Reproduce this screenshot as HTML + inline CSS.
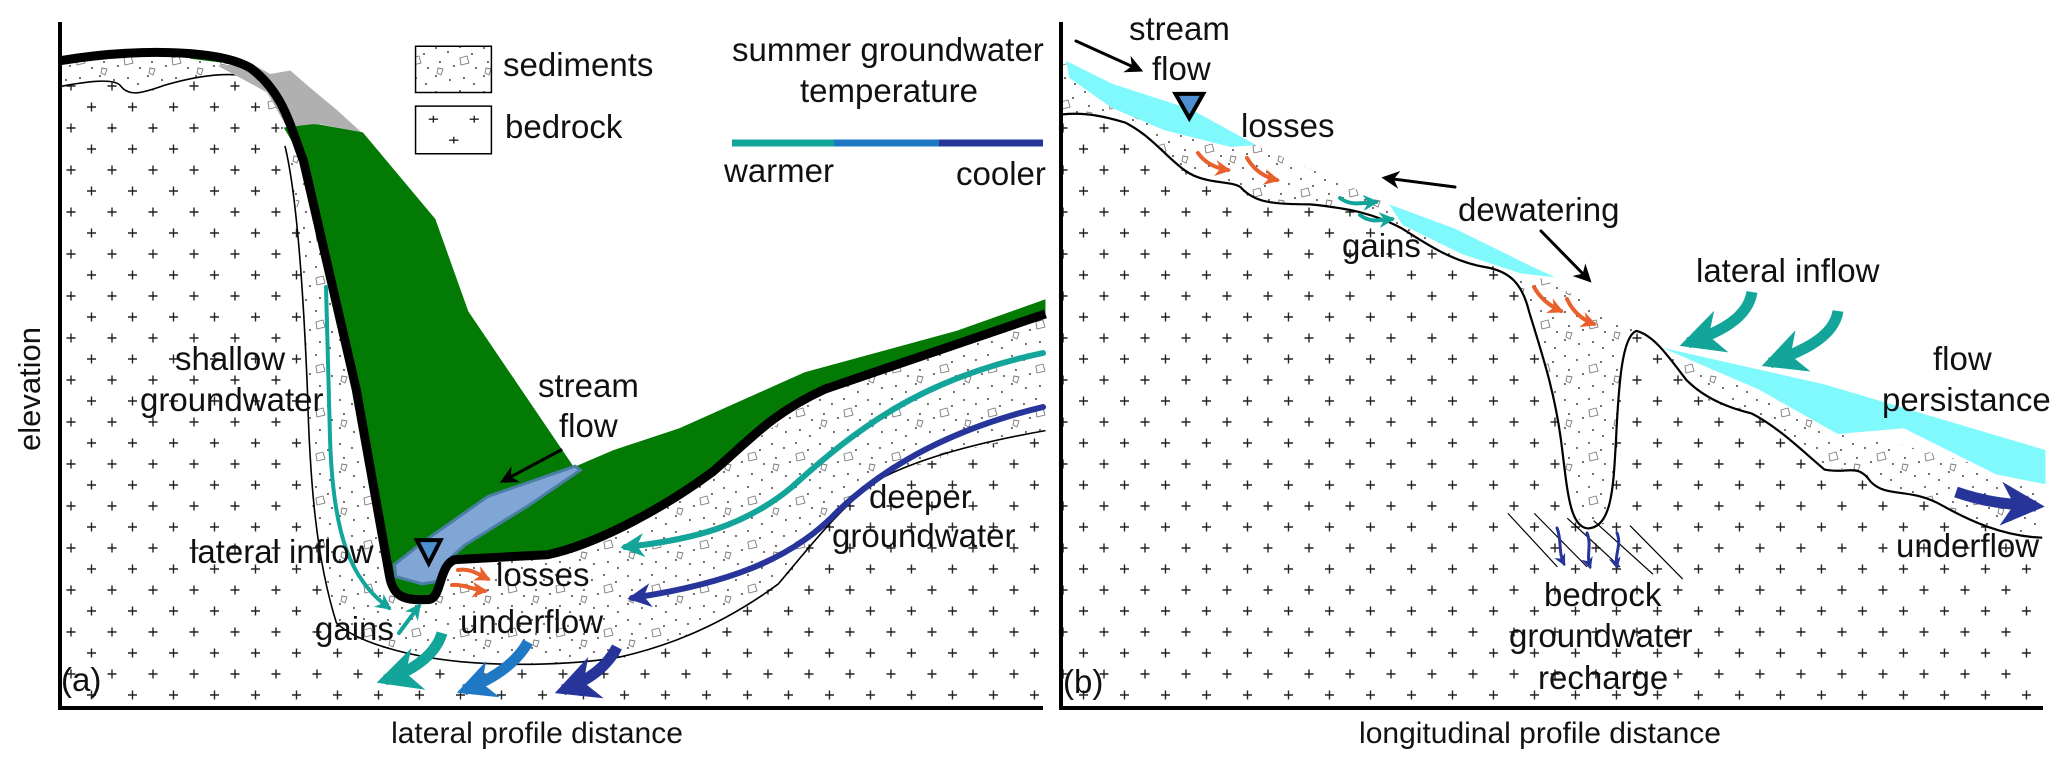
<!DOCTYPE html>
<html>
<head>
<meta charset="utf-8">
<style>
html,body{margin:0;padding:0;background:#fff;}
svg{display:block;}
text{font-family:"Liberation Sans",Arial,sans-serif;fill:#111;}
</style>
</head>
<body>
<svg width="2067" height="763" viewBox="0 0 2067 763" xmlns="http://www.w3.org/2000/svg">
<defs>
  <pattern id="plusT" width="41" height="42" patternUnits="userSpaceOnUse" patternTransform="scale(1.516 2.055) translate(-1 13)">
    <path d="M6,10 h9 M10.5,5.5 v9 M26.5,31 h9 M31,26.5 v9" stroke="#222" stroke-width="1.4"/>
  </pattern>
  <pattern id="sed" width="48" height="44" patternUnits="userSpaceOnUse" patternTransform="scale(1.516 2.055)">
    <rect width="48" height="44" fill="#fff"/>
    <g fill="#444">
      <circle cx="4" cy="4" r="1"/><circle cx="16" cy="8" r="1"/><circle cx="28" cy="3" r="1"/><circle cx="40" cy="10" r="1"/>
      <circle cx="8" cy="18" r="1"/><circle cx="22" cy="22" r="1"/><circle cx="44" cy="24" r="1"/>
      <circle cx="4" cy="32" r="1"/><circle cx="18" cy="36" r="1"/><circle cx="32" cy="34" r="1"/><circle cx="42" cy="40" r="1"/>
    </g>
    <path d="M28,14 l7,-2 l2,7 l-8,2 z M6,24 l5,1 l-2,6 l-4,-2 z" fill="none" stroke="#777" stroke-width="0.9"/>
  </pattern>
  <marker id="mTeal" viewBox="0 0 10 10" refX="8" refY="5" markerWidth="4" markerHeight="4" orient="auto"><path d="M0,0 L10,5 L0,10 L3,5 z" fill="#14a59a"/></marker>
  <marker id="mBlue" viewBox="0 0 10 10" refX="8" refY="5" markerWidth="3.5" markerHeight="3.5" orient="auto"><path d="M0,0 L10,5 L0,10 L3,5 z" fill="#1f78c4"/></marker>
  <marker id="mNavy" viewBox="0 0 10 10" refX="8" refY="5" markerWidth="4" markerHeight="4" orient="auto"><path d="M0,0 L10,5 L0,10 L3,5 z" fill="#27349a"/></marker>
  <marker id="mOrange" viewBox="0 0 10 10" refX="8" refY="5" markerWidth="4" markerHeight="4" orient="auto"><path d="M0,0 L10,5 L0,10 L3,5 z" fill="#e8602c"/></marker>
  <marker id="mBlack" viewBox="0 0 10 10" refX="8" refY="5" markerWidth="6" markerHeight="6" orient="auto"><path d="M0,0 L10,5 L0,10 L3,5 z" fill="#000"/></marker>
</defs>

<g transform="scale(0.6596 0.4866)">
  <path fill="url(#plusT)" d="M90,125 C200,100 330,100 380,140 C430,190 440,260 460,330 L540,800 C560,950 580,1100 590,1180 C595,1225 610,1235 650,1232 C670,1230 665,1160 690,1150 L830,1140 C900,1120 1000,1050 1080,970 C1140,900 1170,850 1250,800 L1585,645 L1585,1455 L90,1455 Z"/>
  <polygon fill="url(#sed)" points="90,125 200,108 330,115 380,140 430,200 460,330 540,800 590,1180 650,1235 690,1150 830,1140 1080,970 1250,800 1585,645 1585,885 1450,930 1340,980 1260,1060 1180,1200 1050,1300 940,1350 820,1370 700,1360 560,1330 510,1280 480,1100 470,900 465,720 455,480 440,330 420,250 380,175 330,150 250,175 200,195 180,170 130,168 90,178"/>
  <path fill="none" stroke="#000" stroke-width="1.6" vector-effect="non-scaling-stroke" d="M90,178 C130,168 170,160 182,175 C195,200 215,192 250,175 C300,155 340,150 370,155 M432,300 C450,400 460,600 466,800 C470,1000 480,1150 510,1280 C540,1320 620,1350 700,1360 C780,1370 880,1365 940,1350 C1040,1320 1120,1260 1180,1200 C1230,1120 1280,1030 1340,980 C1400,940 1480,910 1585,885"/>
  <polygon fill="#037a03" points="265,108 355,125 362,133 290,121"/>
  <polygon fill="#b0b0b0" points="330,135 380,130 410,152 440,145 470,180 510,225 548,272 485,255 470,272 435,262 405,190"/>
  <path fill="#037a03" d="M430,262 L475,255 L485,256 L550,272 L660,450 L710,640 L850,920 L870,960 L930,925 L1030,880 L1220,765 L1450,680 L1585,615 L1585,650 L1250,800 C1170,850 1140,900 1080,970 C1000,1050 900,1120 830,1140 L690,1150 C665,1160 670,1230 650,1232 C610,1235 595,1225 590,1180 C580,1100 560,950 540,800 L460,330 Z"/>
  <polygon fill="#7fa6d4" stroke="#4a7fa5" stroke-width="3" vector-effect="non-scaling-stroke" points="598,1160 640,1115 740,1020 872,958 880,966 800,1040 705,1120 680,1150 662,1195 640,1200 600,1185"/>
  <polygon fill="#4d8fd0" stroke="#000" stroke-width="4" vector-effect="non-scaling-stroke" points="632,1110 668,1110 650,1158"/>
  <path fill="none" stroke="#000" stroke-width="9" vector-effect="non-scaling-stroke" stroke-linejoin="round" d="M90,125 C200,100 330,100 380,140 C430,190 440,260 460,330 L540,800 C560,950 580,1100 590,1180 C595,1225 610,1235 650,1232 C670,1230 665,1160 690,1150 L830,1140 C900,1120 1000,1050 1080,970 C1140,900 1170,850 1250,800 L1585,645"/>
  <rect x="630" y="95" width="115" height="95" fill="url(#sed)" stroke="#000" stroke-width="1.5" vector-effect="non-scaling-stroke"/>
  <rect x="630" y="218" width="115" height="98" fill="#fff" stroke="#000" stroke-width="1.5" vector-effect="non-scaling-stroke"/>
  <path d="M650,245 h14 M657,238 v14 M712,245 h14 M719,238 v14 M681,288 h14 M688,281 v14" stroke="#222" stroke-width="1.4" vector-effect="non-scaling-stroke"/>
</g>

<g transform="translate(1033 0) scale(0.6596 0.4866)">
  <polygon fill="url(#plusT)" points="45,128 340,300 560,430 700,520 760,565 915,672 955,715 1220,880 1530,990 1530,1460 45,1460"/>
  <polygon fill="url(#sed)" points="45,128 340,300 560,430 700,520 760,565 912,668 915,680 905,690 892,760 885,880 880,1000 870,1075 840,1085 815,1050 805,950 795,850 775,740 750,640 735,575 690,550 620,520 560,470 500,432 420,420 340,412 310,380 270,375 230,350 180,285 140,252 90,238 45,235"/>
  <polygon fill="url(#sed)" points="915,680 955,715 1220,880 1530,990 1530,1100 1480,1095 1430,1075 1380,1040 1340,1015 1300,1015 1270,990 1240,960 1200,965 1170,930 1130,880 1090,850 1030,830 990,780 960,730 935,690"/>
  <path fill="none" stroke="#000" stroke-width="2.2" vector-effect="non-scaling-stroke" d="M45,235 C80,230 110,240 140,252 C180,280 200,320 230,350 C260,380 300,370 315,385 C335,415 360,420 420,420 C480,428 520,440 560,470 C600,505 640,540 690,550 C725,560 742,585 752,640 C770,720 790,800 800,900 C810,1000 812,1085 842,1086 C878,1082 880,1000 884,900 C888,790 893,690 915,680 C940,688 962,730 990,780 C1020,822 1060,840 1090,850 C1130,878 1165,925 1200,965 C1235,975 1250,950 1270,990 C1295,1025 1330,1000 1380,1040 C1420,1070 1470,1102 1530,1105"/>
  <polygon fill="#7ff9fb" points="50,125 120,172 240,225 338,298 300,302 200,268 120,222 55,160"/>
  <polygon fill="#7ff9fb" points="540,420 640,470 752,545 792,570 740,562 650,522 560,462"/>
  <polygon fill="#7ff9fb" points="955,715 1200,790 1535,925 1535,995 1460,975 1320,880 1220,892 1100,800 1000,742"/>
  <polygon fill="#4d8fd0" stroke="#000" stroke-width="4" vector-effect="non-scaling-stroke" points="216,193 258,193 237,243"/>
  <g stroke="#000" stroke-width="1.2">
    <line x1="720" y1="1055" x2="795" y2="1165" vector-effect="non-scaling-stroke"/>
    <line x1="760" y1="1055" x2="840" y2="1165" vector-effect="non-scaling-stroke"/>
    <line x1="810" y1="1065" x2="890" y2="1165" vector-effect="non-scaling-stroke"/>
    <line x1="850" y1="1070" x2="940" y2="1180" vector-effect="non-scaling-stroke"/>
    <line x1="905" y1="1080" x2="985" y2="1190" vector-effect="non-scaling-stroke"/>
  </g>
</g>

<g stroke="#000" stroke-width="4">
  <line x1="60" y1="22" x2="60" y2="710"/>
  <line x1="58" y1="708" x2="1043" y2="708"/>
  <line x1="1061" y1="22" x2="1061" y2="710"/>
  <line x1="1059" y1="708" x2="2043" y2="708"/>
</g>

<g stroke-width="7">
  <line x1="732" y1="143" x2="834" y2="143" stroke="#14a59a"/>
  <line x1="834" y1="143" x2="939" y2="143" stroke="#1f78c4"/>
  <line x1="939" y1="143" x2="1043" y2="143" stroke="#27349a"/>
</g>

<g fill="none" stroke-linecap="round">
  <path d="M326,287 L330,438 C333,535 350,579 389,608" stroke="#14a59a" stroke-width="4" marker-end="url(#mTeal)"/>
  <path d="M399,633 L419,606" stroke="#14a59a" stroke-width="4" marker-end="url(#mTeal)"/>
  <path d="M442,633 C435,657 409,672 385,680" stroke="#14a59a" stroke-width="11" stroke-linecap="butt" marker-end="url(#mTeal)"/>
  <path d="M528,642 C514,667 488,681 464,690" stroke="#1f78c4" stroke-width="11" stroke-linecap="butt" marker-end="url(#mBlue)"/>
  <path d="M617,647 C607,667 587,681 563,690" stroke="#27349a" stroke-width="11" stroke-linecap="butt" marker-end="url(#mNavy)"/>
  <path d="M1043,353 C923,378 857,428 792,487 C745,526 693,540 625,547" stroke="#14a59a" stroke-width="6" marker-end="url(#mTeal)"/>
  <path d="M1043,407 C956,428 890,462 838,511 C792,560 726,584 632,598" stroke="#27349a" stroke-width="6" marker-end="url(#mNavy)"/>
  <path d="M458,570 C470,568 478,574 488,579" stroke="#e8602c" stroke-width="4" marker-end="url(#mOrange)"/>
  <path d="M452,585 C464,584 474,590 485,591" stroke="#e8602c" stroke-width="4" marker-end="url(#mOrange)"/>
  <path d="M561,450 L503,481" stroke="#000" stroke-width="3" marker-end="url(#mBlack)"/>
</g>

<g fill="none" stroke-linecap="round">
  <path d="M1076,41 L1140,70" stroke="#000" stroke-width="3" marker-end="url(#mBlack)"/>
  <path d="M1455,187 L1385,178" stroke="#000" stroke-width="3" marker-end="url(#mBlack)"/>
  <path d="M1541,231 L1589,280" stroke="#000" stroke-width="3" marker-end="url(#mBlack)"/>
  <path d="M1198,153 C1205,163 1215,168 1228,170" stroke="#e8602c" stroke-width="4" marker-end="url(#mOrange)"/>
  <path d="M1247,158 C1254,170 1264,177 1277,180" stroke="#e8602c" stroke-width="4" marker-end="url(#mOrange)"/>
  <path d="M1534,287 C1540,298 1550,306 1561,311" stroke="#e8602c" stroke-width="4" marker-end="url(#mOrange)"/>
  <path d="M1567,299 C1573,312 1583,320 1594,324" stroke="#e8602c" stroke-width="4" marker-end="url(#mOrange)"/>
  <path d="M1340,198 C1350,206 1362,203 1376,202" stroke="#14a59a" stroke-width="4" marker-end="url(#mTeal)"/>
  <path d="M1360,215 C1370,223 1380,220 1392,219" stroke="#14a59a" stroke-width="4" marker-end="url(#mTeal)"/>
  <path d="M1752,292 C1748,318 1720,332 1688,343" stroke="#14a59a" stroke-width="11" stroke-linecap="butt" marker-end="url(#mTeal)"/>
  <path d="M1838,311 C1834,338 1800,352 1770,363" stroke="#14a59a" stroke-width="11" stroke-linecap="butt" marker-end="url(#mTeal)"/>
  <path d="M1956,492 C1985,502 2005,504 2036,506" stroke="#27349a" stroke-width="11" stroke-linecap="butt" marker-end="url(#mNavy)"/>
  <path d="M1557,528 C1562,540 1558,552 1564,564" stroke="#27349a" stroke-width="3" marker-end="url(#mNavy)"/>
  <path d="M1587,533 C1592,545 1586,555 1590,567" stroke="#27349a" stroke-width="3" marker-end="url(#mNavy)"/>
  <path d="M1617,533 C1622,545 1614,555 1617,567" stroke="#27349a" stroke-width="3" marker-end="url(#mNavy)"/>
</g>

<g font-size="33">
  <text x="503" y="76">sediments</text>
  <text x="505" y="138">bedrock</text>
  <text x="732" y="61">summer groundwater</text>
  <text x="800" y="102">temperature</text>
  <text x="724" y="182">warmer</text>
  <text x="956" y="185">cooler</text>
  <text font-size="31" transform="translate(40 389) rotate(-90)" text-anchor="middle">elevation</text>
  <text x="175" y="370">shallow</text>
  <text x="140" y="411">groundwater</text>
  <text x="538" y="397">stream</text>
  <text x="559" y="437">flow</text>
  <text x="190" y="563">lateral inflow</text>
  <text x="496" y="586">losses</text>
  <text x="315" y="640">gains</text>
  <text x="460" y="633">underflow</text>
  <text x="869" y="508">deeper</text>
  <text x="832" y="547">groundwater</text>
  <text x="61" y="691">(a)</text>
  <text font-size="30" x="537" y="743" text-anchor="middle">lateral profile distance</text>
</g>

<g font-size="33">
  <text x="1129" y="40">stream</text>
  <text x="1152" y="80">flow</text>
  <text x="1241" y="137">losses</text>
  <text x="1458" y="221">dewatering</text>
  <text x="1342" y="257">gains</text>
  <text x="1696" y="282">lateral inflow</text>
  <text x="1933" y="370">flow</text>
  <text x="1882" y="411">persistance</text>
  <text x="1896" y="557">underflow</text>
  <text x="1544" y="606">bedrock</text>
  <text x="1509" y="647">groundwater</text>
  <text x="1538" y="689">recharge</text>
  <text x="1063" y="693">(b)</text>
  <text font-size="30" x="1540" y="743" text-anchor="middle">longitudinal profile distance</text>
</g>
</svg>
</body>
</html>
